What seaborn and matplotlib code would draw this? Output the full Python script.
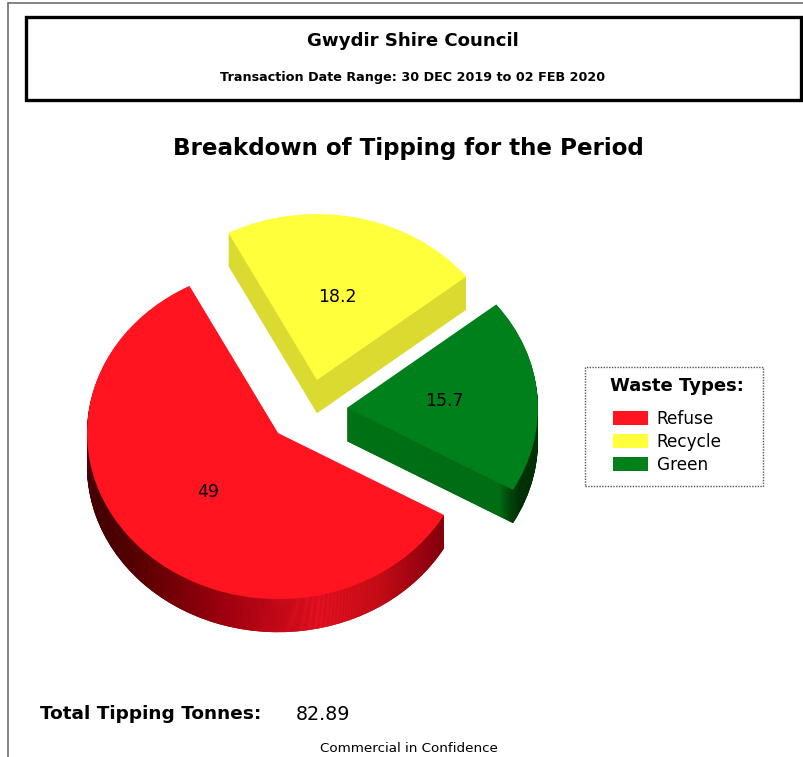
import numpy as np
import matplotlib
matplotlib.use("Agg")
from matplotlib import pyplot as plt
from matplotlib.patches import Rectangle
from matplotlib.lines import Line2D
from matplotlib.colors import LinearSegmentedColormap
import seaborn as sns

# data
waste_types = ["Refuse", "Recycle", "Green"]
tonnes = [49, 18.2, 15.7]
slice_labels = ["49", "18.2", "15.7"]
total_tonnes = "82.89"

top_colors = ["#ff1420", "#ffff3c", "#00801a"]
side_colors = ["#a00010", "#dada30", "#006c14"]

# layout (pixels of the 804x757 page)
PX_W, PX_H = 804, 757
CX, CY = 278, 433          # point of the refuse slice
RX, RY = 191, 166          # pie radius, squashed for the tilt
DEPTH = 0.2                # thickness of the disc (data units)
N_LAYERS = 34
START_ANGLE = 330.4
SLICE_SHIFT = [(0.0, 0.0), (0.204, 0.319), (0.361, 0.151)]


def dx(px):
    return (px - CX) / RX


def dy(py):
    return (CY - py) / RY


# side shading across the page, (pixel x, colour)
red_side = [(87, "#160000"), (140, "#4a0000"), (220, "#9a000e"),
            (320, "#ee1424"), (380, "#cc1018"), (447, "#7a000c")]
green_side = [(345, "#007418"), (500, "#006c14"), (511, "#003a0a"),
              (520, "#001a04"), (545, "#000e00")]


def side_cmap(stops):
    x0, x1 = stops[0][0], stops[-1][0]
    pos = [(x - x0) / (x1 - x0) for x, _ in stops]
    cmap = LinearSegmentedColormap.from_list("side", list(zip(pos, [c for _, c in stops])))
    return cmap, (dx(x0), dx(x1))


sns.set_theme(style="white")
plt.rcParams["font.family"] = ["DejaVu Sans"]
plt.rcParams["text.color"] = "black"

fig = plt.figure(figsize=(PX_W / 100, PX_H / 100), dpi=100)
fig.patch.set_facecolor("white")
ax = fig.add_axes([0, 0, 1, 1])

gradients = {0: side_cmap(red_side), 2: side_cmap(green_side)}
grad = np.linspace(0, 1, 256)[None, :]

top_wedges = None
for k in range(N_LAYERS + 1):
    drop = DEPTH * (1 - k / N_LAYERS)
    is_top = k == N_LAYERS
    wedges, _ = ax.pie(tonnes, startangle=START_ANGLE, counterclock=False,
                       colors=top_colors if is_top else side_colors,
                       wedgeprops=dict(linewidth=0, antialiased=True))
    z = 1 + k * 0.01
    for i, (w, (sx, sy)) in enumerate(zip(wedges, SLICE_SHIFT)):
        w.set_center((sx, sy - drop))
        w.set_zorder(z)
        if not is_top and i in gradients:
            cmap, (x0, x1) = gradients[i]
            im = ax.imshow(grad, cmap=cmap, aspect="auto", interpolation="bilinear",
                           extent=(x0, x1, sy - 1.4, sy + 1.2), zorder=z + 0.005)
            im.set_clip_path(w)
    if is_top:
        top_wedges = wedges

for w, lab in zip(top_wedges, slice_labels):
    mid = np.deg2rad((w.theta1 + w.theta2) / 2)
    cx, cy = w.center
    ax.text(cx + 0.51 * np.cos(mid), cy + 0.51 * np.sin(mid), lab,
            ha="center", va="center", fontsize=12.5, color="black", zorder=5)

ax.set_aspect("auto")
ax.set_xlim(dx(0), dx(PX_W))
ax.set_ylim(dy(PX_H), dy(0))
ax.axis("off")


def fx(px):
    return px / PX_W


def fy(py):
    return 1 - py / PX_H


# page border
fig.add_artist(Line2D([fx(8), fx(8)], [0, fy(3)], color="#707070", lw=1.2))
fig.add_artist(Line2D([fx(8), 1], [fy(3), fy(3)], color="#707070", lw=1.2))

# header box
fig.add_artist(Rectangle((fx(26), fy(100)), fx(801) - fx(26), fy(17) - fy(100),
                         transform=fig.transFigure, fill=False, edgecolor="black", lw=2.4))
fig.text(fx(413), fy(41), "Gwydir Shire Council", ha="center", va="center",
         fontsize=13.1, fontweight="bold")
fig.text(fx(413), fy(78), "Transaction Date Range: 30 DEC 2019 to 02 FEB 2020",
         ha="center", va="center", fontsize=9.2, fontweight="bold")

fig.text(fx(408), fy(149), "Breakdown of Tipping for the Period", ha="center", va="center",
         fontsize=16.6, fontweight="bold")

# legend
fig.add_artist(Rectangle((fx(585), fy(486)), fx(763) - fx(585), fy(367) - fy(486),
                         transform=fig.transFigure, fill=False, edgecolor="#555555",
                         lw=1.0, linestyle=(0, (1, 1))))
fig.text(fx(677), fy(386), "Waste Types:", ha="center", va="center",
         fontsize=13, fontweight="bold")
leg = fig.legend(top_wedges, waste_types, loc="upper left",
                 bbox_to_anchor=(fx(606), fy(403)), frameon=False, fontsize=12.2,
                 handlelength=2.1, handleheight=0.9, handletextpad=0.5,
                 labelspacing=0.31, borderaxespad=0)

fig.text(fx(40), fy(714), "Total Tipping Tonnes:", ha="left", va="center",
         fontsize=13.3, fontweight="bold")
fig.text(fx(296), fy(714), total_tonnes, ha="left", va="center", fontsize=13.8)
fig.text(fx(409), fy(748), "Commercial in Confidence", ha="center", va="center",
         fontsize=9.7)

fig.savefig("out.png", dpi=100, facecolor="white")
